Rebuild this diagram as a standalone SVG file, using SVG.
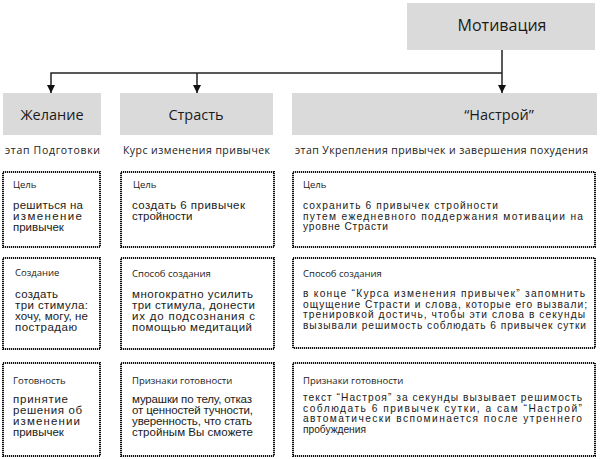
<svg xmlns="http://www.w3.org/2000/svg" width="600" height="459" viewBox="0 0 600 459">
<style>
text{font-family:"Open Sans","Noto Sans","DejaVu Sans",sans-serif;fill:#1a1a1a}
.hb{fill:#dadada;stroke:none}
.ht{font-size:14.5px;text-anchor:middle}
.sub{font-size:10.5px}
.db{fill:#fff;stroke:#111;stroke-width:2;stroke-dasharray:1.2 0.8}
.lb{font-size:9.5px}
.bd{font-family:"Liberation Sans","Arial",sans-serif;font-size:11.5px}
.bs{font-family:"Liberation Sans","Arial",sans-serif;font-size:10.2px}
.cn{stroke:#222;stroke-width:1.5;fill:none}
</style>
<defs>
<marker id="ah" viewBox="0 0 10 10" refX="10" refY="5" markerWidth="8" markerHeight="8" markerUnits="userSpaceOnUse" orient="auto">
<path d="M0,0 L10,5 L0,10 z" fill="#111"/>
</marker>
</defs>
<g id="connectors">
<path class="cn" d="M502,50 V93" marker-end="url(#ah)"/>
<path class="cn" d="M502,73 H51 V93" marker-end="url(#ah)"/>
<path class="cn" d="M197,73 V93" marker-end="url(#ah)"/>
</g>
<g id="motivation">
<rect class="hb" x="407" y="3" width="188" height="47"/>
<text class="ht" x="502" y="31" style="font-size:16px">Мотивация</text>
</g>
<g id="zhelanie">
<rect class="hb" x="3" y="93" width="98" height="42"/>
<text class="ht" x="52" y="120">Желание</text>
<text class="sub" x="5" y="154" textLength="95">этап Подготовки</text>
</g>
<g id="strast">
<rect class="hb" x="120" y="93" width="153" height="42"/>
<text class="ht" x="196" y="120">Страсть</text>
<text class="sub" x="123" y="154" textLength="147">Курс изменения привычек</text>
</g>
<g id="nastroy">
<rect class="hb" x="292" y="93" width="305" height="42"/>
<text class="ht" x="499" y="120">“Настрой”</text>
<text class="sub" x="295" y="154" textLength="293">этап Укрепления привычек и завершения похудения</text>
</g>
<g id="c1r1">
<rect class="db" x="3" y="172" width="97" height="75"/>
<text class="lb" x="13" y="188">Цель</text>
<text class="bd" x="13" y="209" textLength="70">решиться на</text>
<text class="bd" x="13" y="220" textLength="69">изменение</text>
<text class="bd" x="13" y="231">привычек</text>
</g>
<g id="c2r1">
<rect class="db" x="121" y="172" width="153" height="75"/>
<text class="lb" x="133" y="188">Цель</text>
<text class="bd" x="132" y="209" textLength="113">создать 6 привычек</text>
<text class="bd" x="132" y="220">стройности</text>
</g>
<g id="c3r1">
<rect class="db" x="293" y="172" width="302" height="75"/>
<text class="lb" x="303" y="188">Цель</text>
<text class="bs" x="303" y="209" textLength="195">сохранить 6 привычек стройности</text>
<text class="bs" x="303" y="219.5" textLength="280">путем ежедневного поддержания мотивации на</text>
<text class="bs" x="303" y="230" textLength="85">уровне Страсти</text>
</g>
<g id="c1r2">
<rect class="db" x="3" y="258" width="97" height="91"/>
<text class="lb" x="15" y="276">Создание</text>
<text class="bd" x="15" y="298" textLength="43">создать</text>
<text class="bd" x="15" y="309" textLength="73">три стимула:</text>
<text class="bd" x="15" y="320" textLength="73">хочу, могу, не</text>
<text class="bd" x="15" y="331" textLength="62">пострадаю</text>
</g>
<g id="c2r2">
<rect class="db" x="121" y="258" width="153" height="91"/>
<text class="lb" x="132" y="277">Способ создания</text>
<text class="bd" x="132" y="298" textLength="121">многократно усилить</text>
<text class="bd" x="132" y="309" textLength="123">три стимула, донести</text>
<text class="bd" x="132" y="320" textLength="123">их до подсознания с</text>
<text class="bd" x="132" y="331" textLength="120">помощью медитаций</text>
</g>
<g id="c3r2">
<rect class="db" x="293" y="258" width="302" height="90"/>
<text class="lb" x="303" y="277">Способ создания</text>
<text class="bs" x="303" y="297" textLength="282">в конце “Курса изменения привычек” запомнить</text>
<text class="bs" x="303" y="307.5" textLength="284">ощущение Страсти и слова, которые его вызвали;</text>
<text class="bs" x="303" y="318" textLength="282">тренировкой достичь, чтобы эти слова в секунды</text>
<text class="bs" x="303" y="328.5" textLength="283">вызывали решимость соблюдать 6 привычек сутки</text>
</g>
<g id="c1r3">
<rect class="db" x="3" y="363" width="97" height="93"/>
<text class="lb" x="13" y="384">Готовность</text>
<text class="bd" x="13" y="403" textLength="55">принятие</text>
<text class="bd" x="13" y="414" textLength="69">решения об</text>
<text class="bd" x="13" y="425" textLength="67">изменении</text>
<text class="bd" x="13" y="436">привычек</text>
</g>
<g id="c2r3">
<rect class="db" x="121" y="363" width="153" height="93"/>
<text class="lb" x="132" y="384">Признаки готовности</text>
<text class="bd" x="132" y="403" textLength="120">мурашки по телу, отказ</text>
<text class="bd" x="132" y="414" textLength="121">от ценностей тучности,</text>
<text class="bd" x="132" y="425" textLength="120">уверенность, что стать</text>
<text class="bd" x="132" y="436" textLength="121">стройным Вы сможете</text>
</g>
<g id="c3r3">
<rect class="db" x="293" y="363" width="302" height="93"/>
<text class="lb" x="303" y="384">Признаки готовности</text>
<text class="bs" x="303" y="401" textLength="279">текст “Настроя” за секунды вызывает решимость</text>
<text class="bs" x="303" y="411.5" textLength="279">соблюдать 6 привычек  сутки, а сам “Настрой”</text>
<text class="bs" x="303" y="422" textLength="279">автоматически вспоминается после утреннего</text>
<text class="bs" x="303" y="432.5">пробуждения</text>
</g>
</svg>
